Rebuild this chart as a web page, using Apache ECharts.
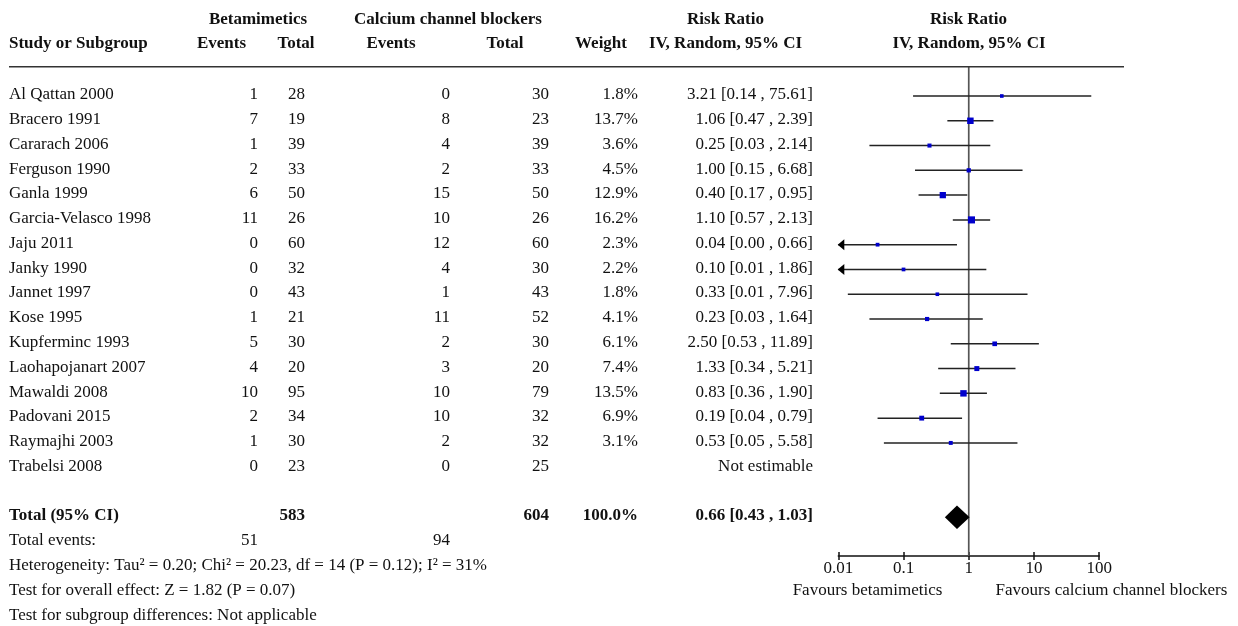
<!DOCTYPE html>
<html><head><meta charset="utf-8">
<script src="https://cdn.jsdelivr.net/npm/echarts@6/dist/echarts.min.js"></script>
<style>html,body{margin:0;padding:0;background:#fff}#c{width:1238px;height:626px}</style>
</head><body><div id="c"></div>
<script>
// ---------------- DATA ----------------
const studies = ["Al Qattan 2000","Bracero 1991","Cararach 2006","Ferguson 1990","Ganla 1999","Garcia-Velasco 1998","Jaju 2011","Janky 1990","Jannet 1997","Kose 1995","Kupferminc 1993","Laohapojanart 2007","Mawaldi 2008","Padovani 2015","Raymajhi 2003","Trabelsi 2008"];
const betaEvents = [1,7,1,2,6,11,0,0,0,1,5,4,10,2,1,0];
const betaTotal  = [28,19,39,33,50,26,60,32,43,21,30,20,95,34,30,23];
const ccbEvents  = [0,8,4,2,15,10,12,4,1,11,2,3,10,10,2,0];
const ccbTotal   = [30,23,39,33,50,26,60,30,43,52,30,20,79,32,32,25];
const weights    = [1.8,13.7,3.6,4.5,12.9,16.2,2.3,2.2,1.8,4.1,6.1,7.4,13.5,6.9,3.1,null];
const riskRatio  = [3.21,1.06,0.25,1.00,0.40,1.10,0.04,0.10,0.33,0.23,2.50,1.33,0.83,0.19,0.53,null];
const ciLower    = [0.14,0.47,0.03,0.15,0.17,0.57,0.002,0.006,0.014,0.03,0.53,0.34,0.36,0.04,0.05,null];
const ciUpper    = [75.61,2.39,2.14,6.68,0.95,2.13,0.66,1.86,7.96,1.64,11.89,5.21,1.90,0.79,5.58,null];
const totalBeta = 583, totalCcb = 604, totalEventsBeta = 51, totalEventsCcb = 94, totalWeight = 100.0;
const pooledRR = 0.66, pooledLower = 0.43, pooledUpper = 1.03;
const axisTickValues = [0.01, 0.1, 1, 10, 100];
const groupA = "Betamimetics", groupB = "Calcium channel blockers";
const favourLeft = "Favours betamimetics", favourRight = "Favours calcium channel blockers";
const heterogeneityText = "Heterogeneity: Tau² = 0.20; Chi² = 20.23, df = 14 (P = 0.12); I² = 31%";
const overallText = "Test for overall effect: Z = 1.82 (P = 0.07)";
const subgroupText = "Test for subgroup differences: Not applicable";

// ---------------- LAYOUT ----------------
const W = 1238, H = 626, ROW0 = 96, ROWH = 24.78, TEXT_DY = 1.3;
const FONT = '"Liberation Serif","Times New Roman",serif';
const FS = 17;
const PLOT = {left: 838.3, right: 1099.2, top: 67, bottom: 556};
const INK = '#111';
const col = {study: 9, betaEv: 258, betaTot: 305, ccbEv: 450, ccbTot: 549, weight: 638, rr: 813};
const fmt2 = v => v.toFixed(2);
const ciText = (r, l, u) => fmt2(r) + " [" + fmt2(l) + " , " + fmt2(u) + "]";

const texts = [];
const T = (x, row, text, align, bold) => texts.push({x, row, text, align, bold: !!bold});
// header
const H1 = -3.035, H2 = -2.05;
T(258, H1, groupA, 'center', 1);
T(448, H1, groupB, 'center', 1);
T(725.5, H1, "Risk Ratio", 'center', 1);
T(968.5, H1, "Risk Ratio", 'center', 1);
T(col.study, H2, "Study or Subgroup", 'left', 1);
T(221.5, H2, "Events", 'center', 1);
T(296, H2, "Total", 'center', 1);
T(391, H2, "Events", 'center', 1);
T(505, H2, "Total", 'center', 1);
T(601, H2, "Weight", 'center', 1);
T(725.5, H2, "IV, Random, 95% CI", 'center', 1);
T(969, H2, "IV, Random, 95% CI", 'center', 1);
// study rows
studies.forEach((s, i) => {
  T(col.study, i, s, 'left');
  T(col.betaEv, i, String(betaEvents[i]), 'right');
  T(col.betaTot, i, String(betaTotal[i]), 'right');
  T(col.ccbEv, i, String(ccbEvents[i]), 'right');
  T(col.ccbTot, i, String(ccbTotal[i]), 'right');
  if (weights[i] != null) T(col.weight, i, weights[i].toFixed(1) + "%", 'right');
  T(col.rr, i, riskRatio[i] != null ? ciText(riskRatio[i], ciLower[i], ciUpper[i]) : "Not estimable", 'right');
});
const TOTAL_ROW = studies.length + 1;
T(col.study, TOTAL_ROW, "Total (95% CI)", 'left', 1);
T(col.betaTot, TOTAL_ROW, String(totalBeta), 'right', 1);
T(col.ccbTot, TOTAL_ROW, String(totalCcb), 'right', 1);
T(col.weight, TOTAL_ROW, totalWeight.toFixed(1) + "%", 'right', 1);
T(col.rr, TOTAL_ROW, ciText(pooledRR, pooledLower, pooledUpper), 'right', 1);
T(col.study, TOTAL_ROW + 1, "Total events:", 'left');
T(col.betaEv, TOTAL_ROW + 1, String(totalEventsBeta), 'right');
T(col.ccbEv, TOTAL_ROW + 1, String(totalEventsCcb), 'right');
T(col.study, TOTAL_ROW + 2, heterogeneityText, 'left');
T(col.study, TOTAL_ROW + 3, overallText, 'left');
T(col.study, TOTAL_ROW + 4, subgroupText, 'left');
T(867.5, TOTAL_ROW + 3, favourLeft, 'center');
T(1111.5, TOTAL_ROW + 3, favourRight, 'center');

const forestData = [];
studies.forEach((s, i) => {
  if (riskRatio[i] != null) forestData.push([riskRatio[i], i, ciLower[i], ciUpper[i], weights[i]]);
});

const XMIN = axisTickValues[0], XMAX = axisTickValues[axisTickValues.length - 1];
const yMinText = -ROW0 / ROWH, yMaxText = (H - ROW0) / ROWH;
const yMinPlot = (PLOT.top - ROW0) / ROWH, yMaxPlot = (PLOT.bottom - ROW0) / ROWH;

const chart = echarts.init(document.getElementById('c'), null, {renderer: 'canvas'});
const axisFont = {fontFamily: FONT, fontSize: FS, color: INK};
chart.setOption({
  animation: false,
  backgroundColor: '#fff',
  grid: [
    {left: 0, top: 0, width: W, height: H},
    {left: PLOT.left, top: PLOT.top, width: PLOT.right - PLOT.left, height: PLOT.bottom - PLOT.top}
  ],
  xAxis: [
    {gridIndex: 0, type: 'value', min: 0, max: W, show: false},
    {gridIndex: 1, type: 'log', logBase: 10, min: XMIN, max: XMAX, position: 'bottom',
     axisLine: {onZero: false, lineStyle: {color: INK, width: 1.5}},
     axisTick: {length: 4, lineStyle: {color: INK, width: 1.5}},
     axisLabel: Object.assign({margin: 4, formatter: v => String(+(+v).toPrecision(3))}, axisFont),
     splitLine: {show: false}},
    {gridIndex: 1, type: 'log', logBase: 10, min: XMIN, max: XMAX, position: 'bottom', offset: 0,
     axisLine: {show: false, onZero: false}, axisLabel: {show: false},
     axisTick: {inside: true, length: 4, lineStyle: {color: INK, width: 1.5}},
     splitLine: {show: false}}
  ],
  yAxis: [
    {gridIndex: 0, type: 'value', inverse: true, min: yMinText, max: yMaxText, show: false},
    {gridIndex: 1, type: 'value', inverse: true, min: yMinPlot, max: yMaxPlot, show: false}
  ],
  graphic: [
    {type: 'line', shape: {x1: 9, y1: PLOT.top - 0.3, x2: 1124, y2: PLOT.top - 0.3}, style: {stroke: '#333', lineWidth: 1.5}, z: 10}
  ],
  series: [
    {
      type: 'custom', xAxisIndex: 0, yAxisIndex: 0, silent: true, clip: false,
      data: texts.map(t => [t.x, t.row]),
      renderItem(params, api) {
        const t = texts[params.dataIndex];
        const p = api.coord([t.x, t.row]);
        return {type: 'text', x: p[0], y: p[1] - TEXT_DY,
          style: {text: t.text, align: t.align, verticalAlign: 'middle',
                  fontFamily: FONT, fontSize: FS, fontWeight: t.bold ? 'bold' : 'normal', fill: INK}};
      }
    },
    {
      type: 'line', xAxisIndex: 1, yAxisIndex: 1, silent: true, symbol: 'none',
      data: [[1, yMinPlot], [1, yMaxPlot]],
      lineStyle: {color: '#555', width: 1.7}, z: 1
    },
    {
      type: 'custom', xAxisIndex: 1, yAxisIndex: 1, silent: true, clip: false,
      encode: {x: 0, y: 1},
      data: forestData,
      renderItem(params, api) {
        const cs = params.coordSys;
        const rr = api.value(0), row = api.value(1), lo = api.value(2), hi = api.value(3), w = api.value(4);
        const pm = api.coord([rr, row]);
        const y = pm[1];
        const xl = lo <= XMIN ? cs.x : api.coord([lo, row])[0];
        const xr = hi >= XMAX ? cs.x + cs.width : api.coord([hi, row])[0];
        const children = [
          {type: 'line', shape: {x1: xl, y1: y, x2: xr, y2: y}, style: {stroke: '#222', lineWidth: 1.5}}
        ];
        if (lo <= XMIN) {
          children.push({type: 'polygon', shape: {points: [[cs.x - 0.6, y], [cs.x + 6, y - 5.5], [cs.x + 6, y + 5.5]]}, style: {fill: '#000'}});
        }
        const s = 3.2 + 0.24 * w;
        children.push({type: 'rect', shape: {x: pm[0] - s / 2, y: y - s / 2, width: s, height: s}, style: {fill: '#0000cc'}});
        return {type: 'group', children};
      }, z: 3
    },
    {
      type: 'custom', xAxisIndex: 1, yAxisIndex: 1, silent: true, clip: false,
      encode: {x: 0, y: 1},
      data: [[pooledRR, TOTAL_ROW, pooledLower, pooledUpper]],
      renderItem(params, api) {
        const pm = api.coord([api.value(0), api.value(1)]);
        const pl = api.coord([api.value(2), api.value(1)]);
        const pu = api.coord([api.value(3), api.value(1)]);
        const h = 11.7;
        return {type: 'polygon', shape: {points: [[pl[0], pm[1]], [pm[0], pm[1] - h], [pu[0], pm[1]], [pm[0], pm[1] + h]]}, style: {fill: '#000'}};
      }, z: 4
    }
  ]
});
</script></body></html>
